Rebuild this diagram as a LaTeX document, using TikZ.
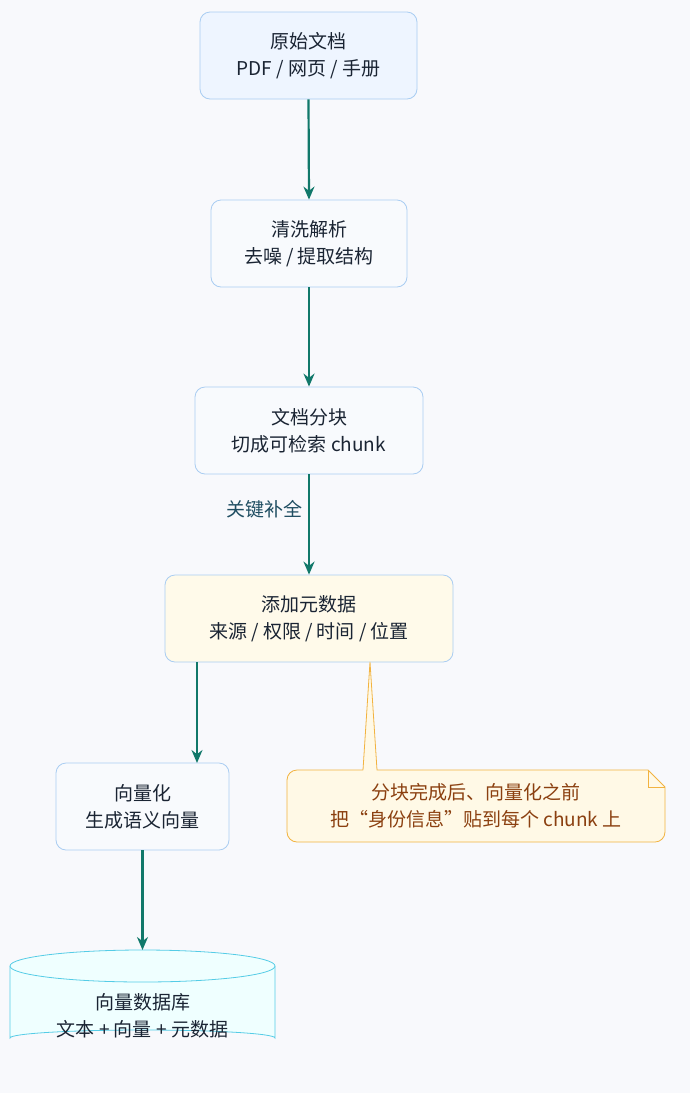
\documentclass[tikz,border=0pt]{standalone}
\usepackage{fontspec}
\usetikzlibrary{arrows.meta}
\setmainfont{Noto Sans CJK SC}
\definecolor{bg}{HTML}{F8F9FC}
\definecolor{bx}{HTML}{A9CDF2}
\definecolor{fa}{HTML}{EEF5FF}
\definecolor{fw}{HTML}{F8FAFD}
\definecolor{fy}{HTML}{FFFAEA}
\definecolor{fc}{HTML}{EFFFFF}
\definecolor{cb}{HTML}{55CCE6}
\definecolor{ar}{HTML}{11786A}
\definecolor{nb}{HTML}{F2B340}
\definecolor{nf}{HTML}{FFF9E6}
\definecolor{nt}{HTML}{8B4010}
\definecolor{lt}{HTML}{1F4E62}
\definecolor{tx}{HTML}{1A2433}
\begin{document}
\begin{tikzpicture}[x=1pt,y=-1pt,
 box/.style={draw=bx,line width=0.8pt,rounded corners=10pt,align=center,text=tx,font=\fontsize{19}{27}\selectfont,inner sep=0pt},
 arr/.style={draw=ar,line width=2.2pt,-{Stealth[length=13pt,width=11pt]}}]
\fill[bg] (0,0) rectangle (690,1093);
\useasboundingbox (0,0) rectangle (690,1093);
\node[box,fill=fa,minimum width=217pt,minimum height=87pt] (a) at (308.5,55.5) {原始文档\\PDF / 网页 / 手册};
\node[box,fill=fw,minimum width=196pt,minimum height=87pt] (b) at (309,243.5) {清洗解析\\去噪 / 提取结构};
\node[box,fill=fw,minimum width=228pt,minimum height=87pt] (c) at (309,430.5) {文档分块\\切成可检索 chunk};
\node[box,fill=fy,minimum width=288pt,minimum height=87pt] (d) at (309,618.5) {添加元数据\\来源 / 权限 / 时间 / 位置};
\node[box,fill=fw,minimum width=173pt,minimum height=87pt] (e) at (142.5,806.5) {向量化\\生成语义向量};
% cylinder
\draw[cb,fill=fc,line width=0.8pt] (10,966) -- (10,1038) arc[start angle=180,end angle=0,x radius=132.5pt,y radius=8pt] -- (275,966);
\draw[cb,fill=fc,line width=0.8pt] (142.5,966) ellipse[x radius=132.5pt,y radius=16pt];
\node[align=center,text=tx,font=\fontsize{19}{27}\selectfont] (f) at (142.5,1016) {向量数据库\\文本 + 向量 + 元数据};
\coordinate (ftop) at (142.5,950);
% arrows
\draw[arr] (a.south) -- (b.north);
\draw[arr] (b.south) -- (c.north);
\draw[arr] (c.south) -- node[pos=0.35,left=2pt,text=lt,font=\fontsize{19}{24}\selectfont]{关键补全} (d.north);
\coordinate (ds) at (197,662);
\coordinate (es) at (197,763);
\draw[arr] (ds) -- (es);
\draw[arr] (e.south) -- (ftop);
% note
\draw[nb,fill=nf,line width=0.8pt] (363,770) -- (370,662) -- (377,770) -- (648,770) -- (665,787) [rounded corners=10pt]-- (665,842) -- (287,842) -- (287,770) [sharp corners]-- (363,770);
\draw[nb,line width=0.8pt] (648,770) -- (648,787) -- (665,787);
\node[align=center,text=nt,font=\fontsize{19}{27}\selectfont] (n) at (476,806) {分块完成后、向量化之前\\把“身份信息”贴到每个 chunk 上};
\end{tikzpicture}
\end{document}
